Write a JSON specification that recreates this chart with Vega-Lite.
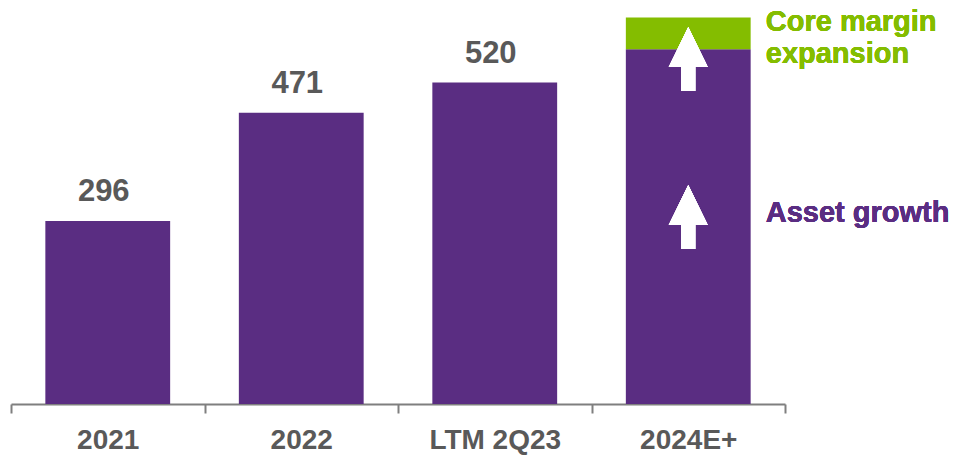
{
  "$schema": "https://vega.github.io/schema/vega-lite/v6.json",
  "width": 774,
  "height": 400,
  "autosize": "none",
  "padding": {"left": 11, "top": 4, "right": 170, "bottom": 51},
  "background": "white",
  "config": {"view": {"stroke": null}, "font": "Liberation Sans"},
  "data": {
    "values": [
      {"period": "2021", "segment": "Actual", "value": 296},
      {"period": "2022", "segment": "Actual", "value": 471},
      {"period": "LTM 2Q23", "segment": "Actual", "value": 520},
      {"period": "2024E+", "segment": "Asset growth", "value": 574},
      {"period": "2024E+", "segment": "Core margin expansion", "value": 51}
    ]
  },
  "encoding": {
    "x": {
      "field": "period",
      "type": "nominal",
      "sort": ["2021", "2022", "LTM 2Q23", "2024E+"],
      "scale": {"paddingInner": 0, "paddingOuter": 0},
      "axis": {
        "title": null,
        "labelAngle": 0,
        "labelFont": "Liberation Sans",
        "labelFontSize": 28,
        "labelFontWeight": "bold",
        "labelColor": "#595959",
        "labelPadding": 13,
        "labelOverlap": false,
        "labelFlush": false,
        "domainColor": "#7F7F7F",
        "domainWidth": 2,
        "tickColor": "#7F7F7F",
        "tickWidth": 2,
        "tickSize": 9,
        "tickBand": "extent"
      }
    }
  },
  "layer": [
    {
      "mark": {"type": "bar", "width": {"band": 0.645}},
      "encoding": {
        "y": {
          "field": "value",
          "type": "quantitative",
          "stack": "zero",
          "scale": {"domain": [0, 647], "nice": false, "zero": true},
          "axis": null
        },
        "color": {
          "field": "segment",
          "type": "nominal",
          "scale": {
            "domain": ["Actual", "Asset growth", "Core margin expansion"],
            "range": ["#5A2D82", "#5A2D82", "#84BD00"]
          },
          "legend": null
        },
        "order": {"field": "segment", "sort": "ascending"}
      }
    },
    {
      "transform": [{"filter": "datum.period !== '2024E+'"}],
      "mark": {
        "type": "text",
        "baseline": "alphabetic",
        "align": "center",
        "dy": -20,
        "dx": -4,
        "fontSize": 31,
        "fontWeight": "bold",
        "font": "Liberation Sans",
        "color": "#595959"
      },
      "encoding": {
        "y": {"field": "value", "type": "quantitative"},
        "text": {"field": "value", "type": "quantitative"}
      }
    },
    {
      "mark": {
        "type": "point",
        "shape": "M0,-1L0.61,0.25L0.22,0.25L0.22,1L-0.22,1L-0.22,0.25L-0.61,0.25Z",
        "size": 4096,
        "filled": true,
        "color": "white",
        "opacity": 1,
        "strokeWidth": 0
      },
      "encoding": {
        "x": {"datum": "2024E+"},
        "y": {"datum": 558}
      }
    },
    {
      "mark": {
        "type": "point",
        "shape": "M0,-1L0.61,0.25L0.22,0.25L0.22,1L-0.22,1L-0.22,0.25L-0.61,0.25Z",
        "size": 4096,
        "filled": true,
        "color": "white",
        "opacity": 1,
        "strokeWidth": 0
      },
      "encoding": {
        "x": {"datum": "2024E+"},
        "y": {"datum": 302.5}
      }
    },
    {
      "mark": {
        "type": "text",
        "align": "left",
        "baseline": "alphabetic",
        "dx": 77.5,
        "fontSize": 29,
        "fontWeight": "bold",
        "font": "Liberation Sans",
        "color": "#84BD00",
        "text": "Core margin"
      },
      "encoding": {
        "x": {"datum": "2024E+"},
        "y": {"datum": 603.3}
      }
    },
    {
      "mark": {
        "type": "text",
        "align": "left",
        "baseline": "alphabetic",
        "dx": 77.5,
        "fontSize": 29,
        "fontWeight": "bold",
        "font": "Liberation Sans",
        "color": "#84BD00",
        "text": "expansion"
      },
      "encoding": {
        "x": {"datum": "2024E+"},
        "y": {"datum": 551.6}
      }
    },
    {
      "mark": {
        "type": "text",
        "align": "left",
        "baseline": "alphabetic",
        "dx": 77.5,
        "fontSize": 29,
        "fontWeight": "bold",
        "font": "Liberation Sans",
        "color": "#5A2D82",
        "text": "Asset growth"
      },
      "encoding": {
        "x": {"datum": "2024E+"},
        "y": {"datum": 294.4}
      }
    }
  ]
}
